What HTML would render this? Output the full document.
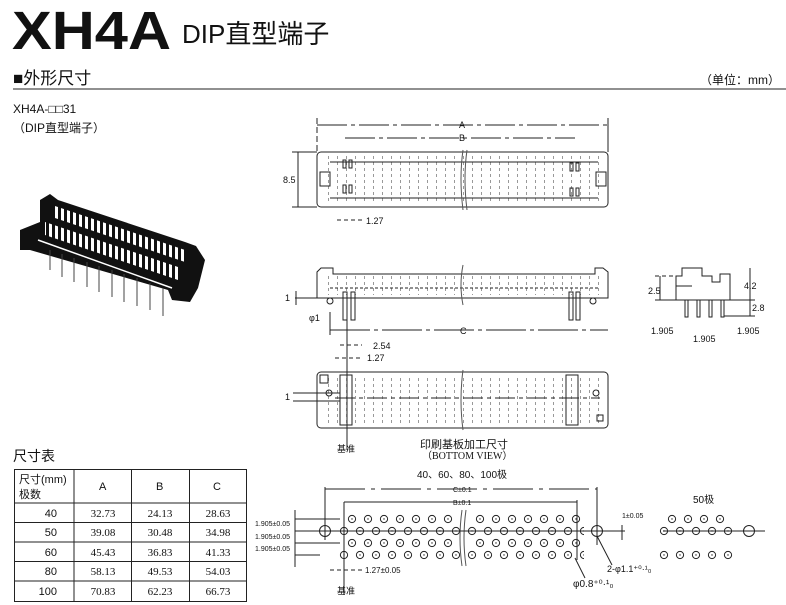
<!DOCTYPE html>
<html><head><meta charset="utf-8"><style>
html,body{margin:0;padding:0;background:#fff;}
svg{display:block;font-family:"Liberation Sans","Noto Sans CJK SC",sans-serif;}
</style></head><body>
<svg width="786" height="605" viewBox="0 0 786 605" xmlns="http://www.w3.org/2000/svg">
<defs>
<pattern id="h1" x="344" y="513" width="16" height="24" patternUnits="userSpaceOnUse">
<circle cx="8" cy="6" r="3.6" fill="none" stroke="#222" stroke-width="1"/><circle cx="8" cy="6" r="0.7" fill="#222"/></pattern>
<pattern id="h2" x="336" y="525" width="16" height="24" patternUnits="userSpaceOnUse">
<circle cx="8" cy="6" r="3.6" fill="none" stroke="#222" stroke-width="1"/><circle cx="8" cy="6" r="0.7" fill="#222"/></pattern>
<pattern id="vd" x="0" y="0" width="9" height="6" patternUnits="userSpaceOnUse">
<rect x="4" y="0" width="1" height="3" fill="#555"/></pattern>
<pattern id="sl" x="0" y="0" width="6" height="10" patternUnits="userSpaceOnUse">
<rect x="1" y="0" width="3" height="10" fill="#fff"/></pattern>
</defs>
<g fill="#111">
<text x="12" y="49" font-size="54" font-weight="bold" textLength="159" lengthAdjust="spacingAndGlyphs">XH4A</text>
<text x="182" y="43" font-size="26">DIP直型端子</text>
<text x="13" y="84" font-size="17">■外形尺寸</text>
<text x="700" y="84" font-size="12">（单位：mm）</text>
<text x="13" y="113" font-size="12">XH4A-□□31</text>
<text x="13" y="132" font-size="12">（DIP直型端子）</text>
<text x="13" y="461" font-size="14">尺寸表</text>
</g>
<line x1="13" y1="89" x2="786" y2="89" stroke="#222" stroke-width="1"/>

<!-- photo -->
<g>
<polygon points="20,230 40,222 40,200 50,194 58,200 185,242 196,246 205,260 198,288 190,302 172,300 168,290 30,250 20,250" fill="#111"/>
<polygon points="52,205 185,250 185,262 52,217" fill="url(#sl)"/>
<polygon points="45,222 178,267 178,280 45,235" fill="url(#sl)"/>
<line x1="38" y1="240" x2="172" y2="288" stroke="#fff" stroke-width="1.5"/>
<g stroke="#444" stroke-width="1">
<line x1="50" y1="250" x2="50" y2="270"/><line x1="62" y1="254" x2="62" y2="277"/><line x1="74" y1="258" x2="74" y2="282"/><line x1="87" y1="262" x2="87" y2="287"/><line x1="99" y1="266" x2="99" y2="292"/><line x1="112" y1="270" x2="112" y2="297"/><line x1="124" y1="274" x2="124" y2="302"/><line x1="137" y1="278" x2="137" y2="306"/><line x1="150" y1="283" x2="150" y2="310"/><line x1="163" y1="288" x2="163" y2="316"/>
</g>
</g>

<!-- top view -->
<g stroke="#222" fill="none" stroke-width="1">
<rect x="317" y="152" width="291" height="55" rx="4"/>
<rect x="320" y="155" width="285" height="49" fill="url(#vd)" stroke="none" opacity="0.6"/>
<line x1="330" y1="162" x2="598" y2="162"/><line x1="330" y1="198" x2="598" y2="198"/>
<rect x="320" y="172" width="10" height="14"/><rect x="596" y="172" width="10" height="14"/>
<rect x="343" y="160" width="3" height="8"/><rect x="349" y="160" width="3" height="8"/>
<rect x="343" y="185" width="3" height="8"/><rect x="349" y="185" width="3" height="8"/>
<rect x="570" y="163" width="3" height="8"/><rect x="576" y="163" width="3" height="8"/>
<rect x="570" y="188" width="3" height="8"/><rect x="576" y="188" width="3" height="8"/>
<path d="M463 150 q-4 28 0 60" stroke="#555"/><path d="M467 150 q-4 28 0 60" stroke="#555"/>
<line x1="317" y1="118" x2="317" y2="152" stroke-dasharray="6 3"/><line x1="608" y1="118" x2="608" y2="152"/>
<line x1="317" y1="125" x2="608" y2="125" stroke-dasharray="30 4 4 4"/>
<line x1="345" y1="138" x2="575" y2="138" stroke-dasharray="30 4 4 4"/>
<line x1="298" y1="152" x2="298" y2="207"/><line x1="292" y1="152" x2="317" y2="152"/><line x1="292" y1="207" x2="317" y2="207"/>
<line x1="337" y1="220" x2="362" y2="220" stroke-dasharray="4 3"/>
</g>
<g font-size="9" fill="#111"><text x="459" y="128">A</text><text x="459" y="141">B</text><text x="283" y="183">8.5</text><text x="366" y="224">1.27</text></g>

<!-- side view -->
<g stroke="#222" fill="none" stroke-width="1">
<path d="M317 298 V272 l4 -4 h12 v6 h262 v-6 h8 l5 4 v26 Z"/>
<rect x="320" y="275" width="283" height="20" fill="url(#vd)" stroke="none" opacity="0.6"/>
<line x1="330" y1="288" x2="600" y2="288" stroke-dasharray="3 2"/>
<rect x="343" y="292" width="4" height="28"/><rect x="351" y="292" width="4" height="28"/>
<rect x="569" y="292" width="4" height="28"/><rect x="576" y="292" width="4" height="28"/>
<circle cx="330" cy="301" r="3"/><circle cx="593" cy="301" r="3"/>
<path d="M463 265 q-4 20 0 40" stroke="#555"/>
<line x1="295" y1="298" x2="330" y2="298"/><line x1="296" y1="291" x2="296" y2="305"/>
<line x1="330" y1="312" x2="330" y2="335"/><line x1="347" y1="320" x2="347" y2="450"/>
<line x1="330" y1="330" x2="608" y2="330" stroke-dasharray="40 4 4 4"/>
<line x1="340" y1="345" x2="362" y2="345" stroke-dasharray="4 3"/>
<line x1="335" y1="358" x2="362" y2="358" stroke-dasharray="4 3"/>
</g>
<g font-size="9" fill="#111"><text x="285" y="301">1</text><text x="309" y="321">φ1</text><text x="460" y="334">C</text><text x="373" y="349">2.54</text><text x="367" y="361">1.27</text></g>

<!-- bottom view -->
<g stroke="#222" fill="none" stroke-width="1">
<rect x="317" y="372" width="291" height="56" rx="4"/>
<rect x="320" y="375" width="285" height="50" fill="url(#vd)" stroke="none" opacity="0.6"/>
<line x1="335" y1="398" x2="600" y2="398" stroke-dasharray="20 4 4 4"/>
<rect x="340" y="375" width="12" height="50"/><rect x="566" y="375" width="12" height="50"/>
<circle cx="329" cy="393" r="3"/><circle cx="596" cy="393" r="3"/>
<rect x="320" y="375" width="8" height="8"/><rect x="597" y="415" width="6" height="6"/>
<path d="M463 370 q-4 30 0 60" stroke="#555"/>
<line x1="293" y1="393" x2="340" y2="393"/><line x1="293" y1="401" x2="340" y2="401"/>
</g>
<g font-size="9" fill="#111"><text x="285" y="400">1</text><text x="337" y="452">基准</text></g>
<text x="420" y="448" font-size="11" fill="#111">印刷基板加工尺寸</text>
<text x="422" y="459" font-size="10" fill="#111" font-family="Liberation Serif,serif">（BOTTOM VIEW）</text>

<!-- right side view -->
<g stroke="#222" fill="none" stroke-width="1">
<path d="M676 300 V276 h6 v-8 h20 v8 h10 v6 h8 v-8 h10 V300 Z"/>
<line x1="676" y1="286" x2="692" y2="286"/>
<rect x="685" y="300" width="3" height="17"/><rect x="697" y="300" width="3" height="17"/><rect x="709" y="300" width="3" height="17"/><rect x="721" y="300" width="3" height="17"/>
<line x1="655" y1="276" x2="676" y2="276" stroke-dasharray="4 3"/><line x1="655" y1="300" x2="676" y2="300"/>
<line x1="660" y1="276" x2="660" y2="300"/>
<line x1="750" y1="268" x2="750" y2="316"/><line x1="730" y1="300" x2="755" y2="300"/><line x1="724" y1="316" x2="755" y2="316"/>
</g>
<g font-size="9" fill="#111"><text x="648" y="294">2.5</text><text x="744" y="289">4.2</text><text x="752" y="311">2.8</text>
<text x="651" y="334">1.905</text><text x="693" y="342">1.905</text><text x="737" y="334">1.905</text></g>

<!-- table -->
<g stroke="#222" stroke-width="1" fill="none">
<rect x="14.5" y="469.5" width="232" height="132"/>
<line x1="14" y1="503" x2="247" y2="503"/>
<line x1="14" y1="522.5" x2="247" y2="522.5"/>
<line x1="14" y1="542" x2="247" y2="542"/>
<line x1="14" y1="561.5" x2="247" y2="561.5"/>
<line x1="14" y1="581" x2="247" y2="581"/>
<line x1="74" y1="469" x2="74" y2="602"/><line x1="131.5" y1="469" x2="131.5" y2="602"/><line x1="189.5" y1="469" x2="189.5" y2="602"/>
</g>
<g font-size="11" fill="#111">
<text x="19" y="483">尺寸(mm)</text><text x="19" y="498">极数</text>
<text x="99" y="490">A</text><text x="156" y="490">B</text><text x="213" y="490">C</text>
<g text-anchor="end"><text x="57" y="517">40</text><text x="57" y="536">50</text><text x="57" y="556">60</text><text x="57" y="575">80</text><text x="57" y="595">100</text></g>
</g>
<g font-size="11" fill="#111" font-family="Liberation Serif,serif" text-anchor="middle">
<text x="103" y="517">32.73</text><text x="160" y="517">24.13</text><text x="218" y="517">28.63</text>
<text x="103" y="536">39.08</text><text x="160" y="536">30.48</text><text x="218" y="536">34.98</text>
<text x="103" y="556">45.43</text><text x="160" y="556">36.83</text><text x="218" y="556">41.33</text>
<text x="103" y="575">58.13</text><text x="160" y="575">49.53</text><text x="218" y="575">54.03</text>
<text x="103" y="595">70.83</text><text x="160" y="595">62.23</text><text x="218" y="595">66.73</text>
</g>

<!-- hole pattern -->
<text x="417" y="478" font-size="10" fill="#111">40、60、80、100极</text>
<g stroke="#222" fill="none" stroke-width="1">
<line x1="325" y1="487" x2="325" y2="540"/><line x1="597" y1="487" x2="597" y2="545"/>
<line x1="325" y1="489" x2="597" y2="489" stroke-dasharray="40 6 4 6"/>
<line x1="344" y1="502" x2="344" y2="595"/><line x1="577" y1="500" x2="577" y2="560"/>
<line x1="344" y1="502" x2="577" y2="502"/>
<rect x="344" y="513" width="112" height="48" fill="url(#h1)" stroke="none"/>
<rect x="336" y="525" width="128" height="36" fill="url(#h2)" stroke="none"/>
<rect x="472" y="513" width="112" height="48" fill="url(#h1)" stroke="none"/>
<rect x="464" y="525" width="120" height="36" fill="url(#h2)" stroke="none"/>
<path d="M462 510 q-4 28 0 56" stroke="#555"/><path d="M466 510 q-4 28 0 56" stroke="#555"/>
<circle cx="325" cy="531" r="5.5"/><circle cx="597" cy="531" r="5.5"/>
<line x1="295" y1="531" x2="625" y2="531"/>
<line x1="295" y1="519" x2="340" y2="519"/><line x1="295" y1="543" x2="340" y2="543"/><line x1="295" y1="555" x2="320" y2="555"/>
<line x1="295" y1="510" x2="295" y2="567"/>
<line x1="330" y1="570" x2="365" y2="570" stroke-dasharray="4 3"/>
<line x1="622" y1="525" x2="622" y2="540"/>
<line x1="575" y1="558" x2="585" y2="578"/><line x1="597" y1="536" x2="612" y2="565"/>
<rect x="664" y="513" width="64" height="24" fill="url(#h1)" stroke="none"/>
<rect x="656" y="525" width="80" height="36" fill="url(#h2)" stroke="none"/>
<line x1="663" y1="531" x2="765" y2="531"/><circle cx="749" cy="531" r="5.5"/>
</g>
<g font-size="7" fill="#111">
<text x="255" y="526">1.905±0.05</text><text x="255" y="539">1.905±0.05</text><text x="255" y="551">1.905±0.05</text>
<text x="365" y="573" font-size="8">1.27±0.05</text><text x="453" y="492">C±0.1</text><text x="453" y="505">B±0.1</text>
<text x="622" y="518">1±0.05</text>
<text x="607" y="572" font-size="9">2-φ1.1⁺⁰·¹₀</text><text x="573" y="587" font-size="10">φ0.8⁺⁰·¹₀</text>
<text x="337" y="594" font-size="9">基准</text>
</g>
<text x="693" y="503" font-size="10" fill="#111">50极</text>
</svg>
</body></html>
